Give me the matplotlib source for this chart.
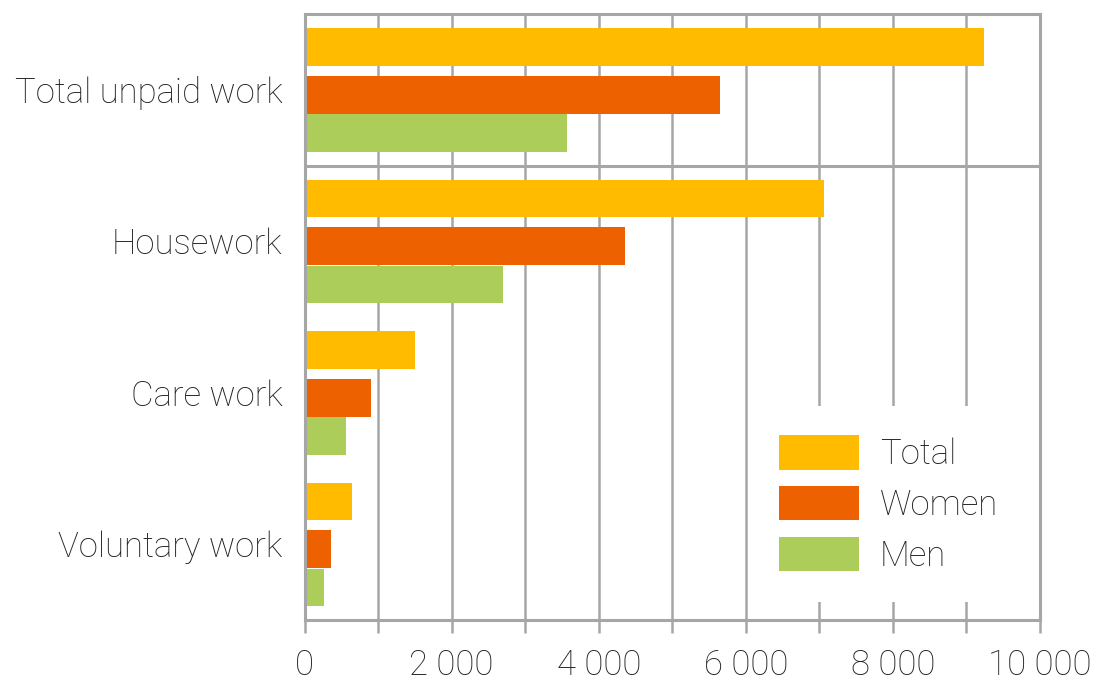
import matplotlib
matplotlib.use("Agg")
import matplotlib.pyplot as plt
import numpy as np
from matplotlib.ticker import MultipleLocator, FuncFormatter

categories = ["Total unpaid work", "Housework", "Care work", "Voluntary work"]
series_names = ["Total", "Women", "Men"]
total_vals = [9240, 7070, 1500, 650]
women_vals = [5650, 4360, 910, 360]
men_vals = [3570, 2700, 570, 270]
colors = ["#FFBB00", "#EE6100", "#ADCD5B"]

plt.rcParams['font.family'] = ['Roboto', 'DejaVu Sans']
FS = 25
FSPX = FS * 100 / 72
TXT = "#222222"
GRID = "#A6A6A6"

fig = plt.figure(figsize=(10.99, 6.81), dpi=100)
ax = fig.add_axes([304.5/1099, 1-620/681, (1040-304.5)/1099, (620-14)/681])

y = np.arange(len(categories))
h = 0.248
offsets = [-0.281, 0.033, 0.285]
for vals, off, c, name in zip([total_vals, women_vals, men_vals], offsets, colors, series_names):
    ax.barh(y + off, vals, height=h, color=c, label=name, zorder=2)

ax.set_xlim(0, 10000)
ax.set_ylim(3.5, -0.5)
ax.set_yticks(y)
ax.set_yticklabels(categories, fontsize=FS, color=TXT, fontweight='light')
ax.tick_params(axis='y', length=0, pad=16)

ax.xaxis.set_major_locator(MultipleLocator(2000))
ax.xaxis.set_minor_locator(MultipleLocator(1000))
ax.xaxis.set_major_formatter(FuncFormatter(lambda v, p: f"{int(v):,}".replace(",", " ")))
ax.tick_params(axis='x', which='both', direction='out', length=9.5, width=1.8, color=GRID, pad=11)
for lab in ax.get_xticklabels():
    lab.set_fontsize(FS)
    lab.set_color(TXT)
    lab.set_fontweight('light')

ax.set_axisbelow(True)
ax.grid(axis='x', which='both', color=GRID, linewidth=1.8, zorder=0)
ax.grid(axis='y', visible=False)
for s in ax.spines.values():
    s.set_color(GRID)
    s.set_linewidth(2.2)
ax.axhline(0.5, color=GRID, linewidth=2.2, zorder=1)

bp = 29 / FSPX
leg = ax.legend(loc='upper left', bbox_to_anchor=(750/1099, 1-406/681), bbox_transform=fig.transFigure,
                borderaxespad=0, frameon=True, fancybox=False, framealpha=1, facecolor='white',
                edgecolor='none', handlelength=80/FSPX, handleheight=40/FSPX, handletextpad=21/FSPX,
                labelspacing=0.43, borderpad=bp, prop={'size': FS, 'weight': 'light'})
for t in leg.get_texts():
    t.set_color(TXT)
leg.set_zorder(5)

fig.savefig("out.png", dpi=100)
